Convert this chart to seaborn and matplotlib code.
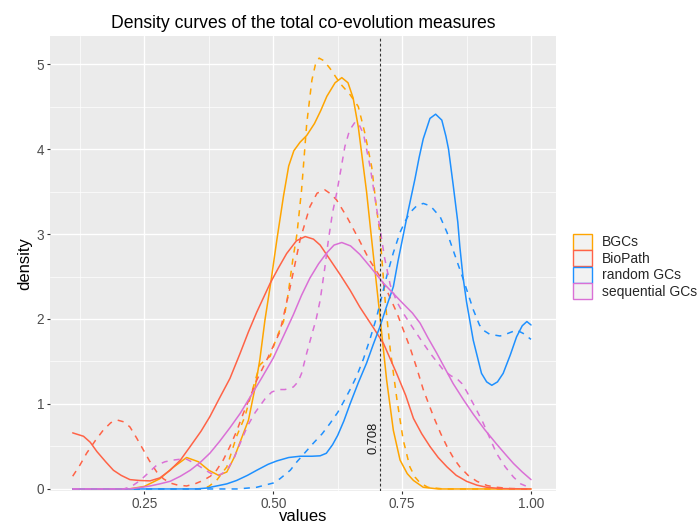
import numpy as np
import pandas as pd
import matplotlib
matplotlib.use("Agg")
import matplotlib.pyplot as plt
from matplotlib.patches import Patch
import seaborn as sns

groups = ["BGCs", "BioPath", "random GCs", "sequential GCs"]
palette = {"BGCs": "#FFA500", "BioPath": "#FF6347",
           "random GCs": "#1E90FF", "sequential GCs": "#DA70D6"}
threshold = 0.708

# values (solid and dashed curve per group)
bgc_solid_x = [0.111, 0.22, 0.25, 0.28, 0.305, 0.332, 0.355, 0.375, 0.394, 0.41, 0.425, 0.44,
               0.452, 0.465, 0.474, 0.484, 0.496, 0.507, 0.52, 0.53, 0.54, 0.552, 0.565, 0.58,
               0.592, 0.604, 0.62, 0.633, 0.645, 0.655, 0.665, 0.681, 0.691, 0.704, 0.72, 0.733,
               0.746, 0.76, 0.772, 0.791, 0.82, 1.0]
bgc_solid_y = [0.0, 0.0, 0.03, 0.12, 0.25, 0.37, 0.32, 0.22, 0.16, 0.2, 0.38, 0.62,
               0.81, 1.2, 1.52, 1.99, 2.46, 2.93, 3.45, 3.8, 3.98, 4.08, 4.16, 4.3,
               4.45, 4.62, 4.78, 4.84, 4.78, 4.6, 4.26, 3.5, 2.93, 2.2, 1.28, 0.69,
               0.34, 0.18, 0.1, 0.02, 0.0, 0.0]
bgc_dash_x = [0.111, 0.36, 0.375, 0.39, 0.41, 0.429, 0.445, 0.458, 0.474, 0.487, 0.494, 0.503,
              0.51, 0.52, 0.529, 0.538, 0.546, 0.555, 0.565, 0.575, 0.582, 0.589, 0.598, 0.61,
              0.63, 0.649, 0.665, 0.678, 0.691, 0.7, 0.707, 0.717, 0.727, 0.74, 0.752, 0.765,
              0.775, 0.785, 0.8, 0.83, 1.0]
bgc_dash_y = [0.0, 0.0, 0.03, 0.1, 0.26, 0.62, 0.85, 1.13, 1.46, 1.53, 1.56, 1.72,
              1.83, 1.97, 2.3, 2.7, 3.0, 3.52, 4.3, 4.81, 5.0, 5.07, 5.04, 4.95,
              4.77, 4.64, 4.5, 4.18, 3.79, 3.32, 3.0, 2.22, 1.64, 1.05, 0.58, 0.26,
              0.14, 0.07, 0.02, 0.0, 0.0]

bio_solid_x = [0.111, 0.132, 0.145, 0.158, 0.175, 0.19, 0.205, 0.222, 0.24, 0.261, 0.28, 0.3,
               0.32, 0.339, 0.36, 0.377, 0.395, 0.416, 0.436, 0.452, 0.468, 0.494, 0.51, 0.526,
               0.545, 0.562, 0.578, 0.591, 0.61, 0.63, 0.649, 0.668, 0.694, 0.714, 0.74, 0.757,
               0.772, 0.788, 0.804, 0.82, 0.837, 0.855, 0.875, 0.895, 0.914, 0.94, 1.0]
bio_solid_y = [0.66, 0.62, 0.55, 0.44, 0.32, 0.22, 0.16, 0.11, 0.1, 0.095, 0.13, 0.22,
               0.34, 0.5, 0.68, 0.85, 1.06, 1.3, 1.6, 1.85, 2.08, 2.42, 2.6, 2.77,
               2.92, 2.97, 2.94, 2.87, 2.7, 2.52, 2.34, 2.14, 1.9, 1.71, 1.35, 1.1,
               0.83, 0.65, 0.5, 0.37, 0.26, 0.16, 0.09, 0.045, 0.02, 0.005, 0.0]
bio_dash_x = [0.111, 0.125, 0.138, 0.155, 0.17, 0.185, 0.198, 0.21, 0.222, 0.235, 0.248, 0.26,
              0.274, 0.287, 0.3, 0.315, 0.332, 0.348, 0.364, 0.378, 0.39, 0.403, 0.416, 0.429,
              0.442, 0.455, 0.468, 0.49, 0.513, 0.533, 0.552, 0.571, 0.585, 0.6, 0.612, 0.623,
              0.643, 0.665, 0.686, 0.707, 0.723, 0.74, 0.765, 0.778, 0.791, 0.811, 0.825, 0.837,
              0.85, 0.862, 0.878, 0.895, 0.915, 0.933, 0.96, 1.0]
bio_dash_y = [0.15, 0.28, 0.42, 0.57, 0.69, 0.78, 0.81, 0.79, 0.73, 0.6, 0.46, 0.33,
              0.2, 0.12, 0.07, 0.045, 0.035, 0.06, 0.1, 0.15, 0.22, 0.34, 0.5, 0.68,
              0.89, 1.08, 1.28, 1.55, 1.85, 2.38, 2.93, 3.32, 3.48, 3.52, 3.47, 3.4,
              3.2, 2.95, 2.7, 2.5, 2.3, 2.07, 1.67, 1.43, 1.17, 0.85, 0.65, 0.5,
              0.36, 0.26, 0.16, 0.09, 0.04, 0.02, 0.005, 0.0]

rnd_solid_x = [0.111, 0.35, 0.37, 0.39, 0.41, 0.429, 0.45, 0.468, 0.49, 0.507, 0.53, 0.552,
               0.575, 0.591, 0.603, 0.615, 0.625, 0.637, 0.649, 0.665, 0.681, 0.694, 0.707, 0.72,
               0.733, 0.742, 0.752, 0.762, 0.775, 0.783, 0.791, 0.804, 0.815, 0.827, 0.835, 0.84,
               0.849, 0.858, 0.862, 0.868, 0.875, 0.888, 0.904, 0.914, 0.924, 0.935, 0.946, 0.96,
               0.972, 0.983, 0.992, 1.0]
rnd_solid_y = [0.0, 0.0, 0.01, 0.035, 0.06, 0.1, 0.16, 0.22, 0.29, 0.33, 0.37, 0.385,
               0.385, 0.39, 0.42, 0.52, 0.63, 0.8, 1.0, 1.25, 1.48, 1.7, 1.91, 2.15,
               2.38, 2.68, 2.98, 3.28, 3.65, 3.9, 4.12, 4.36, 4.41, 4.34, 4.15, 4.0,
               3.58, 3.14, 2.85, 2.5, 2.2, 1.75, 1.36, 1.26, 1.22, 1.26, 1.36, 1.58,
               1.79, 1.92, 1.97, 1.93]
rnd_dash_x = [0.111, 0.43, 0.45, 0.468, 0.5, 0.513, 0.533, 0.546, 0.562, 0.578, 0.595, 0.61,
              0.625, 0.636, 0.65, 0.662, 0.675, 0.688, 0.7, 0.71, 0.72, 0.733, 0.746, 0.756,
              0.765, 0.778, 0.791, 0.805, 0.824, 0.837, 0.849, 0.869, 0.888, 0.9, 0.907, 0.92,
              0.94, 0.955, 0.972, 0.985, 1.0]
rnd_dash_y = [0.0, 0.0, 0.01, 0.02, 0.07, 0.12, 0.22, 0.32, 0.43, 0.54, 0.65, 0.77,
              0.9, 1.02, 1.18, 1.33, 1.53, 1.77, 2.01, 2.25, 2.5, 2.78, 3.02, 3.15,
              3.25, 3.33, 3.36, 3.33, 3.2, 3.02, 2.81, 2.46, 2.11, 1.93, 1.87, 1.82,
              1.8, 1.83, 1.87, 1.83, 1.76]

seq_solid_x = [0.111, 0.22, 0.24, 0.261, 0.28, 0.3, 0.32, 0.339, 0.358, 0.377, 0.396, 0.416,
               0.436, 0.455, 0.477, 0.5, 0.52, 0.539, 0.555, 0.571, 0.588, 0.604, 0.618, 0.633,
               0.65, 0.668, 0.69, 0.714, 0.733, 0.752, 0.77, 0.785, 0.8, 0.817, 0.833, 0.849,
               0.869, 0.888, 0.91, 0.933, 0.95, 0.966, 0.983, 1.0]
seq_solid_y = [0.0, 0.0, 0.015, 0.035, 0.06, 0.09, 0.15, 0.22, 0.31, 0.42, 0.56, 0.72,
               0.89, 1.08, 1.3, 1.54, 1.8, 2.05, 2.28, 2.48, 2.65, 2.78, 2.87, 2.9,
               2.86, 2.76, 2.6, 2.42, 2.3, 2.18, 2.07, 1.95, 1.78, 1.6, 1.42, 1.24,
               1.05, 0.88, 0.7, 0.53, 0.41, 0.3, 0.2, 0.11]
seq_dash_x = [0.111, 0.21, 0.225, 0.242, 0.258, 0.274, 0.29, 0.306, 0.32, 0.332, 0.348, 0.364,
              0.377, 0.387, 0.398, 0.41, 0.423, 0.436, 0.45, 0.465, 0.484, 0.497, 0.51, 0.523,
              0.539, 0.548, 0.555, 0.565, 0.575, 0.583, 0.591, 0.6, 0.607, 0.615, 0.623, 0.631,
              0.639, 0.648, 0.659, 0.667, 0.675, 0.688, 0.7, 0.708, 0.716, 0.727, 0.74, 0.752,
              0.778, 0.804, 0.83, 0.845, 0.856, 0.866, 0.875, 0.89, 0.907, 0.92, 0.933, 0.95,
              0.966, 0.98, 1.0]
seq_dash_y = [0.0, 0.0, 0.03, 0.1, 0.19, 0.28, 0.32, 0.34, 0.35, 0.35, 0.3, 0.24,
              0.19, 0.16, 0.17, 0.22, 0.35, 0.54, 0.74, 0.9, 1.06, 1.14, 1.17, 1.17,
              1.2, 1.26, 1.36, 1.6, 1.82, 1.99, 2.22, 2.6, 2.93, 3.25, 3.48, 3.75,
              4.03, 4.22, 4.32, 4.28, 4.18, 3.79, 3.32, 3.03, 2.72, 2.4, 2.2, 2.07,
              1.83, 1.6, 1.4, 1.33, 1.3, 1.24, 1.15, 0.98, 0.78, 0.6, 0.42, 0.26,
              0.14, 0.06, 0.01]

curves = [
    ("BGCs", "solid", bgc_solid_x, bgc_solid_y),
    ("BGCs", "dashed", bgc_dash_x, bgc_dash_y),
    ("BioPath", "solid", bio_solid_x, bio_solid_y),
    ("BioPath", "dashed", bio_dash_x, bio_dash_y),
    ("random GCs", "solid", rnd_solid_x, rnd_solid_y),
    ("random GCs", "dashed", rnd_dash_x, rnd_dash_y),
    ("sequential GCs", "solid", seq_solid_x, seq_solid_y),
    ("sequential GCs", "dashed", seq_dash_x, seq_dash_y),
]
df = pd.concat([pd.DataFrame({"group": g, "measure": m, "values": x, "density": y})
                for g, m, x, y in curves], ignore_index=True)

sns.set_theme(style="darkgrid", rc={
    "axes.facecolor": "#EBEBEB", "grid.color": "white",
    "xtick.bottom": True, "ytick.left": True,
})
plt.rcParams["font.family"] = ["Liberation Sans", "DejaVu Sans"]

fig = plt.figure(figsize=(7, 5.26), dpi=100)
ax = fig.add_axes([50 / 700, 35 / 526, 506 / 700, 455 / 526])

sns.lineplot(data=df, x="values", y="density", hue="group", style="measure",
             hue_order=groups, style_order=["solid", "dashed"], palette=palette,
             dashes={"solid": "", "dashed": (4, 4)}, estimator=None, linewidth=1.1,
             legend=False, ax=ax)

ax.axvline(threshold, color="#333333", linestyle=(0, (2.5, 2)), linewidth=0.8)
ax.text(threshold - 0.002, 0.6, "0.708", rotation=90, ha="right", va="center",
        fontsize=9.3, color="#1A1A1A")

ax.set_xlim(0.067, 1.0485)
ax.set_ylim(-0.024, 5.33)
ax.set_xticks([0.25, 0.5, 0.75, 1.0])
ax.set_xticklabels(["0.25", "0.50", "0.75", "1.00"])
ax.set_xticks([0.125, 0.375, 0.625, 0.875], minor=True)
ax.set_yticks([0, 1, 2, 3, 4, 5])
ax.set_yticks([0.5, 1.5, 2.5, 3.5, 4.5], minor=True)
ax.grid(which="major", color="white", linewidth=1.0)
ax.grid(which="minor", color="white", linewidth=0.5)
ax.tick_params(which="major", length=2.2, width=0.8, color="#333333",
               labelsize=9.8, labelcolor="#4D4D4D", pad=2)
ax.tick_params(which="minor", length=0)
for s in ax.spines.values():
    s.set_visible(False)

ax.set_title("Density curves of the total co-evolution measures", fontsize=12.7,
             color="black", pad=6)
ax.set_xlabel("values", fontsize=12, color="black", labelpad=-1)
ax.set_ylabel("density", fontsize=12, color="black", labelpad=3)

handles = [Patch(facecolor="#F2F2F2", edgecolor=palette[g], linewidth=1.0, label=g)
           for g in groups]
fig.legend(handles=handles, loc="center left", bbox_to_anchor=(573 / 700, 1 - 266.5 / 526),
           frameon=False, fontsize=10, handlelength=1.39, handleheight=1.39,
           labelspacing=0.05, handletextpad=0.72, borderpad=0, borderaxespad=0)

fig.savefig("out.png", dpi=100)
